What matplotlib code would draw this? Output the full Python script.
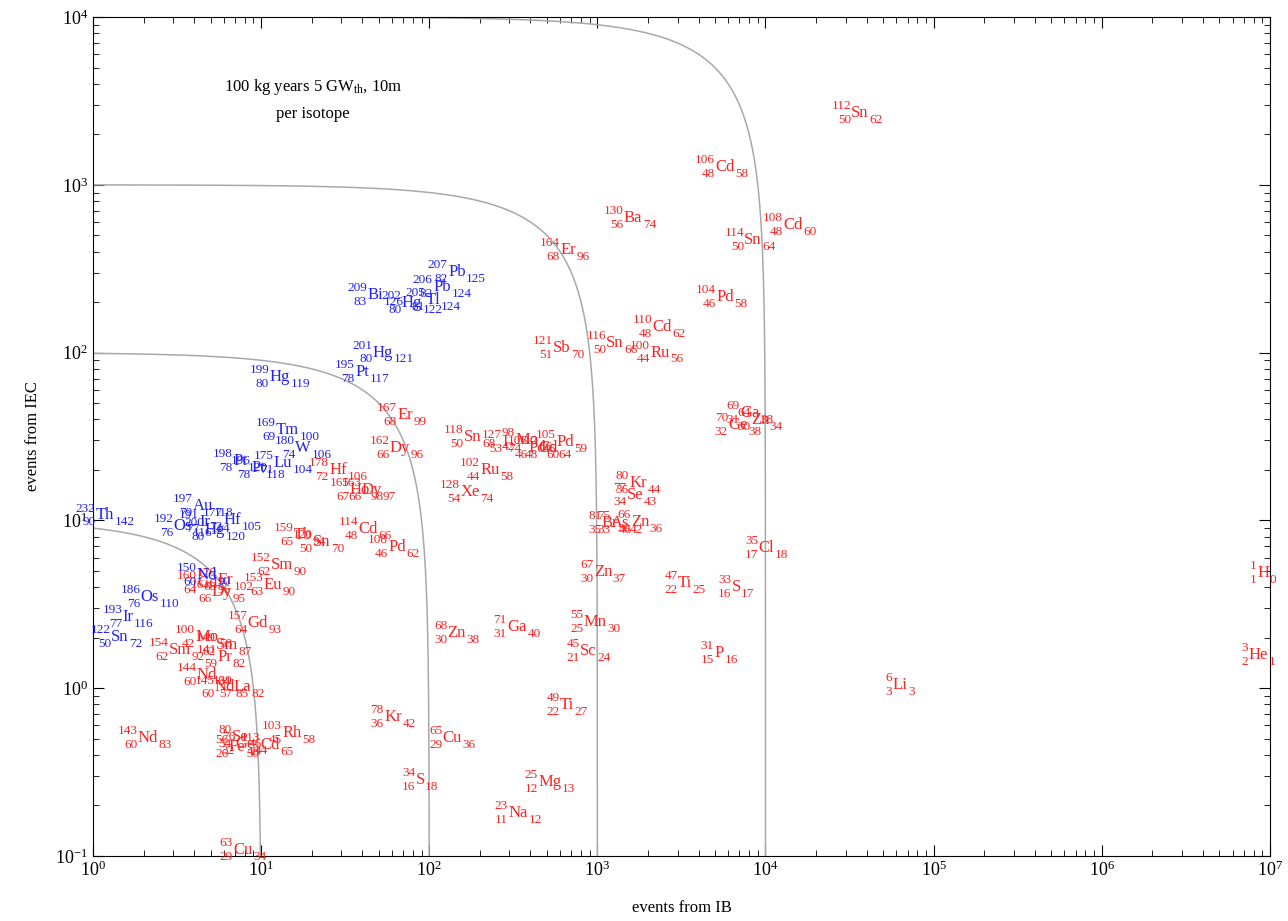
import numpy as np
import matplotlib
matplotlib.use('Agg')
import matplotlib.pyplot as plt

plt.rcParams['font.family'] = ['Liberation Serif', 'DejaVu Serif']
plt.rcParams['mathtext.fontset'] = 'custom'
plt.rcParams['mathtext.rm'] = 'Liberation Serif'
plt.rcParams['mathtext.it'] = 'Liberation Serif:italic'
plt.rcParams['mathtext.bf'] = 'Liberation Serif:bold'
plt.rcParams['mathtext.default'] = 'regular'

# heavy isotopes (blue)
blue_sym = ['Th', 'Au', 'Os', 'Hf', 'Hg', 'Ir', 'Os', 'Ir', 'Sn', 'Nd', 'Tm', 'W', 'Lu',
            'Pt', 'Pt', 'Hg', 'Hg', 'Pt', 'Bi', 'Pb', 'Pb', 'Hg', 'Tl']
blue_A = [232, 197, 192, 177, 200, 191, 186, 193, 122, 150, 169, 180, 175,
          198, 196, 199, 201, 195, 209, 207, 206, 202, 205]
blue_Z = [90, 79, 76, 72, 80, 77, 76, 77, 50, 60, 69, 74, 71,
          78, 78, 80, 80, 78, 83, 82, 82, 80, 81]
blue_ib = [1.18, 4.51, 3.43, 6.71, 5.32, 4.64, 2.18, 1.62, 1.45, 4.77, 14.3, 17.8, 13.5,
           7.49, 9.59, 12.9, 53.1, 39.8, 47.6, 146, 119, 79, 105]
blue_iec = [10.7, 12.2, 9.24, 10.0, 8.74, 9.76, 3.49, 2.65, 2.01, 4.71, 34.5, 26.9, 21.9,
            22.5, 20.5, 71.3, 100, 76.4, 220, 301, 245, 197, 205]

# other isotopes (red)
red_sym = ['Gd', 'Dy', 'Er', 'Sm', 'Eu', 'Gd', 'Mo', 'Sm', 'Sm', 'Pr', 'Nd', 'La', 'Nd',
           'Nd', 'Rh', 'Se', 'Cd', 'Fe', 'Ge', 'Cu', 'Er', 'Dy', 'Hf', 'Ho', 'Dy', 'Cd',
           'Pd', 'Tb', 'Sn', 'Sn', 'I', 'Mo', 'Pd', 'Pd', 'Cd', 'Ru', 'Xe', 'Kr', 'Se',
           'Br', 'As', 'Zn', 'Zn', 'Ga', 'Mn', 'Sc', 'Ti', 'Kr', 'Cu', 'S', 'Mg', 'Na',
           'Zn', 'Cd', 'Ba', 'Er', 'Cd', 'Sn', 'Pd', 'Cd', 'Sn', 'Ru', 'Sb', 'Sn', 'Ga',
           'Ge', 'Zn', 'Cl', 'S', 'P', 'Ti', 'H', 'He', 'Li']
red_A = [160, 161, 170, 152, 153, 157, 100, 149, 154, 141, 144, 139, 145,
         143, 103, 80, 113, 56, 76, 63, 167, 162, 178, 165, 163, 114,
         108, 159, 120, 118, 127, 98, 106, 105, 112, 102, 128, 80, 77,
         81, 75, 66, 68, 71, 55, 45, 49, 78, 65, 34, 25, 23,
         67, 106, 130, 164, 108, 114, 104, 110, 116, 100, 121, 112, 69,
         70, 64, 35, 33, 31, 47, 1, 3, 6]
red_Z = [64, 66, 68, 62, 63, 64, 42, 62, 62, 59, 60, 57, 60,
         60, 45, 34, 48, 26, 32, 29, 68, 66, 72, 67, 66, 48,
         46, 65, 50, 50, 53, 42, 46, 46, 48, 44, 54, 36, 34,
         35, 33, 30, 30, 31, 25, 21, 22, 36, 29, 16, 12, 11,
         30, 48, 56, 68, 48, 50, 46, 48, 50, 44, 51, 50, 31,
         32, 30, 17, 16, 15, 22, 1, 2, 3]
red_ib = [4.77, 5.85, 6.10, 13.3, 11.8, 9.59, 4.77, 6.27, 3.29, 6.10, 4.77, 7.70, 6.10,
          2.12, 15.3, 7.49, 11.3, 7.19, 8.02, 7.80, 71.8, 67.0, 28.7, 38.8, 45.7, 43.3,
          64.3, 17.8, 23.0, 182, 282, 382, 438, 643, 509, 230, 175, 1746, 1675,
          1190, 1365, 1795, 146, 333, 969, 881, 661, 60.9, 137, 88.2, 523, 338,
          1081, 5750, 1631, 670, 14590, 8440, 5750, 2427, 1275, 2360, 617, 36550, 8100,
          6870, 9290, 10090, 6685, 5300, 3325, 9.12e6, 8.51e6, 63200]
red_iec = [4.22, 3.73, 4.40, 5.41, 4.11, 2.44, 2.01, 1.80, 1.68, 1.53, 1.20, 1.01, 1.01,
           0.503, 0.539, 0.511, 0.457, 0.445, 0.464, 0.108, 42.4, 26.9, 19.9, 15.1, 15.1, 8.86,
           6.92, 8.16, 7.41, 31.3, 29.2, 30.1, 26.9, 29.2, 26.9, 19.9, 14.7, 16.7, 14.1,
           9.62, 9.62, 9.76, 2.13, 2.31, 2.47, 1.66, 0.792, 0.672, 0.503, 0.283, 0.275, 0.180,
           4.91, 1274, 632, 407, 574, 468, 214, 142, 114, 100, 106, 2671, 43.5,
           36.9, 39.5, 6.83, 4.00, 1.62, 4.22, 4.85, 1.57, 1.04]

# total-event contours (IB + IEC = const)
totals = [10, 100, 1000, 10000]

fig = plt.figure(figsize=(12.88, 9.21), dpi=100)
ax = fig.add_axes([0.0722, 0.0706, 0.9137, 0.9109])
ax.set_xscale('log')
ax.set_yscale('log')
ax.set_xlim(1, 1e7)
ax.set_ylim(0.1, 1e4)

for c in totals:
    x1 = np.logspace(0, np.log10(c / 2), 200)
    y2 = np.logspace(np.log10(c / 2), -1.5, 200)
    xs = np.concatenate([x1, c - y2])
    ys = np.concatenate([c - x1, y2])
    ax.plot(xs, ys, color='#a8a8a8', lw=1.1)


def iso_label(xv, yv, sym, a, z, color):
    t = ax.text(xv, yv, sym, color=color, fontsize=12, ha='center', va='center')
    kw = dict(xycoords=t, textcoords='offset points', color=color,
              fontsize=9.5, va='baseline')
    ax.annotate(str(a), xy=(0, 0), xytext=(-0.3, 8.6), ha='right', **kw)
    ax.annotate(str(z), xy=(0, 0), xytext=(-0.3, -1.2), ha='right', **kw)
    ax.annotate(str(a - z), xy=(1, 0), xytext=(0.4, -1.2), ha='left', **kw)


for s, a, z, xv, yv in zip(red_sym, red_A, red_Z, red_ib, red_iec):
    iso_label(xv, yv, s, a, z, '#ff2020')
for s, a, z, xv, yv in zip(blue_sym, blue_A, blue_Z, blue_ib, blue_iec):
    iso_label(xv, yv, s, a, z, '#2020ff')

ax.text(0.187, 0.917, r'100 kg years 5 GW$_{\rm th}$, 10m', transform=ax.transAxes,
        ha='center', va='center', fontsize=12)
ax.text(0.187, 0.884, 'per isotope', transform=ax.transAxes,
        ha='center', va='center', fontsize=12)

ax.tick_params(which='both', direction='in', top=True, right=True, labelsize=13)
ax.tick_params(which='major', length=8)
ax.tick_params(which='minor', length=4)
ax.set_xlabel('events from IB', fontsize=12, labelpad=14)
ax.set_ylabel('events from IEC', fontsize=12, labelpad=10)

fig.savefig('out.png', dpi=100)
